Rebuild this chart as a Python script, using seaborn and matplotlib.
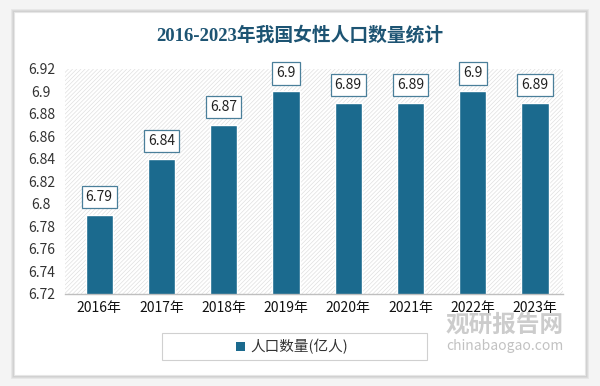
import matplotlib
matplotlib.use("Agg")
import matplotlib.pyplot as plt
import seaborn as sns
import pandas as pd
from matplotlib.patches import Rectangle

years = ["2016年", "2017年", "2018年", "2019年", "2020年", "2021年", "2022年", "2023年"]
values = [6.79, 6.84, 6.87, 6.9, 6.89, 6.89, 6.9, 6.89]
value_labels = ["6.79", "6.84", "6.87", "6.9", "6.89", "6.89", "6.9", "6.89"]
yticks = [6.72, 6.74, 6.76, 6.78, 6.8, 6.82, 6.84, 6.86, 6.88, 6.9, 6.92]
ytick_labels = ["6.72", "6.74", "6.76", "6.78", "6.8", "6.82", "6.84", "6.86", "6.88", "6.9", "6.92"]
title = "2016-2023年我国女性人口数量统计"
series_name = "人口数量(亿人)"

sns.set_theme(style="white")
plt.rcParams['font.family'] = ['Noto Sans CJK SC', 'DejaVu Sans']
plt.rcParams['hatch.color'] = '#e0e0e0'
plt.rcParams['hatch.linewidth'] = 0.5

BAR = "#1b6a8e"
df = pd.DataFrame({"year": years, "value": values})

fig = plt.figure(figsize=(6, 3.86), dpi=100, facecolor="#f4f4f4")
# card with shadow
for i, a in enumerate([0.05, 0.05, 0.06]):
    fig.patches.append(Rectangle((14/600 - i*0.002, 11/386 - i*0.003), 571/600 + i*0.004, 363/386 + i*0.006,
                                 transform=fig.transFigure, facecolor="none", edgecolor=(0, 0, 0, a),
                                 linewidth=2, zorder=-3))
fig.patches.append(Rectangle((14/600, 11/386), 571/600, 363/386, transform=fig.transFigure,
                             facecolor="white", edgecolor="#e6e6e6", linewidth=0.8, zorder=-2))

ax = fig.add_axes([65/600, 1 - 294/386, (563 - 65)/600, (294 - 69)/386])
ax.set_zorder(1)
ax.set_facecolor("none")
ax.add_patch(Rectangle((0, 0), 1, 1, transform=ax.transAxes, facecolor="white",
                       hatch="////////", edgecolor="#e0e0e0", linewidth=0, zorder=0))

sns.barplot(data=df, x="year", y="value", color=BAR, width=0.44, ax=ax, zorder=2,
            saturation=1)
ax.set_ylim(6.72, 6.92)
ax.set_xlim(-0.55, 7.45)
ax.set_yticks(yticks)
ax.set_yticklabels(ytick_labels)
ax.set_xlabel("")
ax.set_ylabel("")
for s in ["top", "right", "left"]:
    ax.spines[s].set_visible(False)
ax.spines["bottom"].set_color("#bfbfbf")
ax.spines["bottom"].set_linewidth(1)
ax.tick_params(axis="y", length=0, labelsize=10, colors="#333333", pad=17)
ax.tick_params(axis="x", length=0, labelsize=10, colors="#111111", pad=5)
for lbl in ax.get_yticklabels():
    lbl.set_horizontalalignment("center")

for i, (v, t) in enumerate(zip(values, value_labels)):
    ax.annotate(t, (i, v), xytext=(0, 13), textcoords="offset points", ha="center", va="center",
                fontsize=10, color="#222222", zorder=5,
                bbox=dict(boxstyle="square,pad=0.3", facecolor="white", edgecolor="#4a7f9a", linewidth=0.9))

fig.text(0.5, 1 - 35/386, title, ha="center", va="center", fontsize=13.5, color="#1d5473",
         family=['Liberation Serif', 'Noto Sans CJK SC'], fontweight="bold")

# legend box
fig.patches.append(Rectangle((162/600, 1 - 360/386), 265/600, 27/386, transform=fig.transFigure,
                             facecolor="white", edgecolor="#d0d0d0", linewidth=0.8, zorder=1))
fig.patches.append(Rectangle((236/600, 1 - 351/386), 9/600, 9/386, transform=fig.transFigure,
                             facecolor=BAR, edgecolor="none", zorder=2))
fig.text(250/600, 1 - 347/386, series_name, ha="left", va="center", fontsize=10.5, color="#333333")

# watermark
fig.text(505/600, 1 - 325/386, "观研报告网", ha="center", va="center", fontsize=17, color="#9a9a9a",
         alpha=0.5, fontweight="bold", zorder=3)
fig.text(505/600, 1 - 346/386, "chinabaogao.com", ha="center", va="center", fontsize=10, color="#9a9a9a",
         alpha=0.6, zorder=3)

fig.savefig("out.png", dpi=100, facecolor=fig.get_facecolor())
